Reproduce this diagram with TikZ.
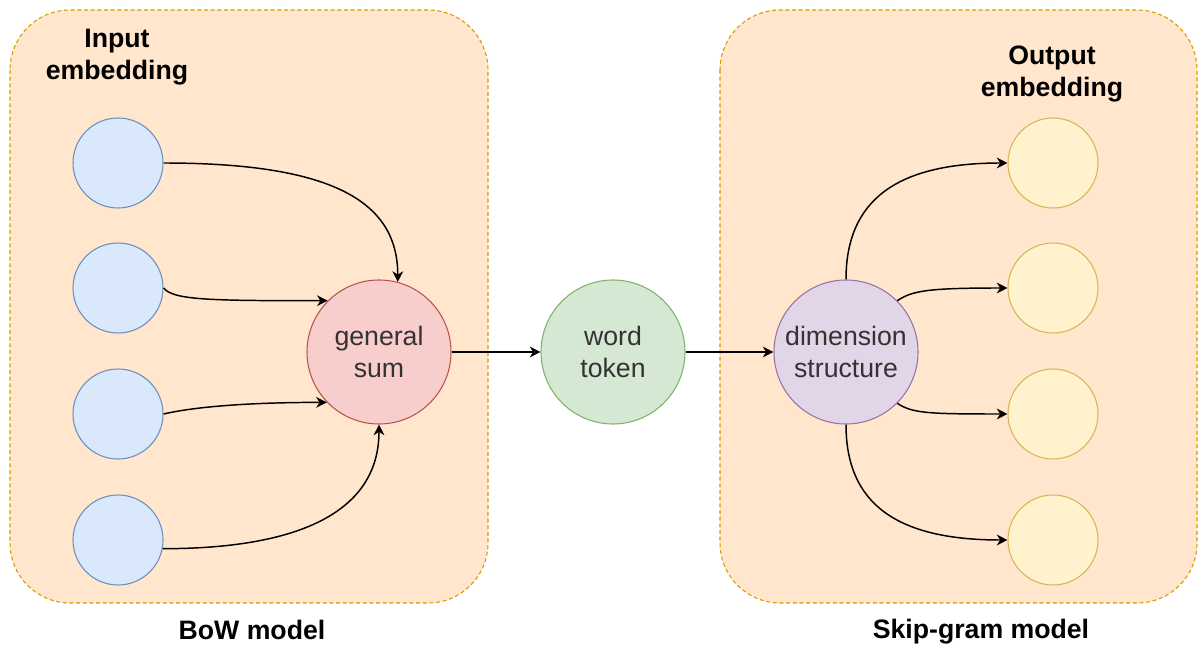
\documentclass[tikz,border=0pt]{standalone}
\usepackage{fontspec}
\setmainfont{Liberation Sans}
\usetikzlibrary{arrows.meta}
\definecolor{panelfill}{HTML}{FFE6CC}
\definecolor{panelline}{HTML}{D79B00}
\definecolor{bluefill}{HTML}{DAE8FC}
\definecolor{blueline}{HTML}{6C8EBF}
\definecolor{redfill}{HTML}{F8CECC}
\definecolor{redline}{HTML}{B85450}
\definecolor{greenfill}{HTML}{D5E8D4}
\definecolor{greenline}{HTML}{82B366}
\definecolor{purplefill}{HTML}{E1D5E7}
\definecolor{purpleline}{HTML}{9673A6}
\definecolor{yellowfill}{HTML}{FFF2CC}
\definecolor{yellowline}{HTML}{D6B656}
\definecolor{labeltext}{HTML}{333333}
\tikzset{
  panel/.style={draw=panelline, fill=panelfill, line width=0.8pt,
    dash pattern=on 3pt off 2pt, rounded corners=45pt},
  unit/.style={circle, minimum size=67.5pt, inner sep=0pt, line width=0.8pt},
  bigunit/.style={circle, minimum size=108pt, inner sep=0pt, line width=0.8pt,
    align=center, text=labeltext, font=\fontsize{20}{24}\selectfont},
  inunit/.style={unit, draw=blueline, fill=bluefill},
  outunit/.style={unit, draw=yellowline, fill=yellowfill},
  title/.style={align=center, font=\fontsize{20}{24}\selectfont\bfseries},
  arr/.style={line width=1.1pt, -{Stealth[length=8pt,width=8pt,inset=2.5pt]}}
}
\begin{document}
\begin{tikzpicture}[x=0.75pt,y=-0.75pt]
\useasboundingbox (0,0) rectangle (1199,648);

% model panels
\draw[panel] (10,10) rectangle (488,603);
\draw[panel] (720,10) rectangle (1197,603);

% bag-of-words side
\node[inunit] (b1) at (118,163) {};
\node[inunit] (b2) at (118,288) {};
\node[inunit] (b3) at (118,414) {};
\node[inunit] (b4) at (118,540) {};
\node[bigunit, draw=redline, fill=redfill] (gs) at (379,352) {general\\sum};

% central token
\node[bigunit, draw=greenline, fill=greenfill] (wt) at (613,352) {word\\token};

% skip-gram side
\node[bigunit, draw=purpleline, fill=purplefill] (ds) at (846,352) {dimension\\structure};
\node[outunit] (y1) at (1053,163) {};
\node[outunit] (y2) at (1053,288) {};
\node[outunit] (y3) at (1053,414) {};
\node[outunit] (y4) at (1053,540) {};

% captions
\node[title] (tin) at (117,57) {Input\\embedding};
\node[title] (tout) at (1052,74) {Output\\embedding};
\node[title] (tbow) at (252,630) {BoW model};
\node[title] (tsg) at (981,632) {Skip-gram model};

% inputs into the sum
\draw[arr] (b1.east) .. controls +(170,0) and +(0,-80) .. (gs.75);
\draw[arr] (b2.east) .. controls +(10,12) and +(-120,0) .. (gs.135);
\draw[arr] (b3.east) .. controls +(30,-7) and +(-80,0) .. (gs.224);
\draw[arr] (b4.-11) .. controls +(150,0) and +(0,80) .. (gs.south);

% main chain
\draw[arr] (gs.east) -- (wt.west);
\draw[arr] (wt.east) -- (ds.west);

% outputs of the structure
\draw[arr] (ds.north) .. controls +(0,-80) and +(-110,0) .. (y1.west);
\draw[arr] (ds.45) .. controls +(15,-10) and +(-80,0) .. (y2.west);
\draw[arr] (ds.-45) .. controls +(15,10) and +(-80,0) .. (y3.west);
\draw[arr] (ds.south) .. controls +(0,80) and +(-110,0) .. (y4.west);
\end{tikzpicture}
\end{document}
